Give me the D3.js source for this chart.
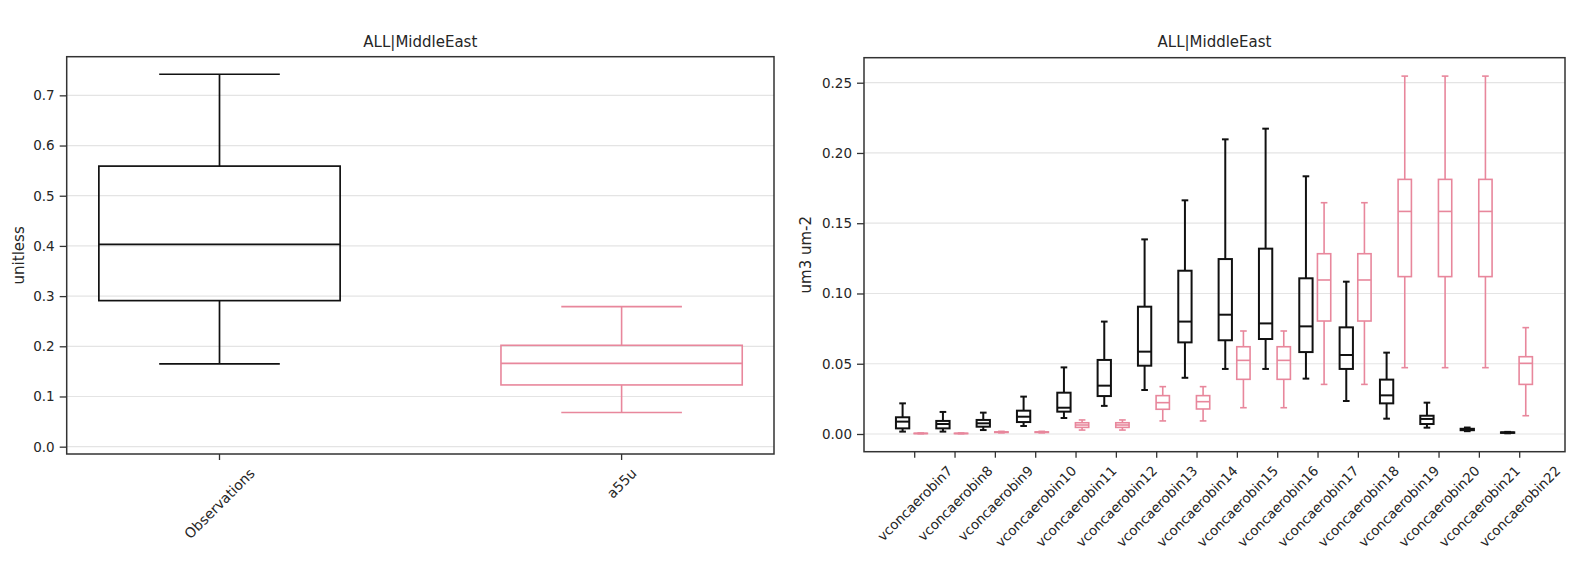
<!DOCTYPE html>
<html>
<head>
<meta charset="utf-8">
<script src="https://cdn.jsdelivr.net/npm/d3@7/dist/d3.min.js"></script>
<style>
  html, body { margin: 0; padding: 0; background: #fff; }
  svg { display: block; }
  text { font-family: "DejaVu Sans", sans-serif; }
</style>
</head>
<body>
<svg id="chart" width="1576" height="573"></svg>
<script>
// ---------------- DATA ----------------
const chartTitle = "ALL|MiddleEast";

// Left panel: one box per source, stats = [whiskerLow, q1, median, q3, whiskerHigh]
const leftCategories = ["Observations", "a55u"];
const leftStats = [
  [0.165, 0.291, 0.403, 0.559, 0.742],
  [0.068, 0.123, 0.166, 0.202, 0.279]
];
const leftYLabel = "unitless";
const leftYTicks = [0.0, 0.1, 0.2, 0.3, 0.4, 0.5, 0.6, 0.7];

// Right panel: per size bin, observations (black) and a55u model (pink)
const binCategories = ["vconcaerobin7","vconcaerobin8","vconcaerobin9","vconcaerobin10",
  "vconcaerobin11","vconcaerobin12","vconcaerobin13","vconcaerobin14","vconcaerobin15",
  "vconcaerobin16","vconcaerobin17","vconcaerobin18","vconcaerobin19","vconcaerobin20",
  "vconcaerobin21","vconcaerobin22"];
const binObsStats = [
  [0.0017, 0.0040, 0.0088, 0.0119, 0.0218],
  [0.0017, 0.0040, 0.0071, 0.0093, 0.0157],
  [0.0028, 0.0052, 0.0076, 0.0100, 0.0152],
  [0.0057, 0.0085, 0.0123, 0.0166, 0.0266],
  [0.0114, 0.0159, 0.0187, 0.0294, 0.0474],
  [0.0200, 0.0270, 0.0344, 0.0527, 0.0800],
  [0.0313, 0.0486, 0.0586, 0.0906, 0.1385],
  [0.0400, 0.0652, 0.0800, 0.1162, 0.1663],
  [0.0463, 0.0667, 0.0849, 0.1245, 0.2097],
  [0.0463, 0.0676, 0.0787, 0.1319, 0.2173],
  [0.0394, 0.0583, 0.0766, 0.1108, 0.1834],
  [0.0235, 0.0463, 0.0562, 0.0759, 0.1084],
  [0.0109, 0.0218, 0.0275, 0.0387, 0.0579],
  [0.0045, 0.0071, 0.0107, 0.0130, 0.0223],
  [0.0020, 0.0027, 0.0032, 0.0037, 0.0046],
  [0.0005, 0.0008, 0.0010, 0.0012, 0.0015]
];
const binModelStats = [
  [0.0002, 0.0003, 0.0004, 0.0005, 0.0007],
  [0.0002, 0.0003, 0.0004, 0.0005, 0.0007],
  [0.0008, 0.0011, 0.0013, 0.0015, 0.0019],
  [0.0008, 0.0011, 0.0013, 0.0015, 0.0019],
  [0.0028, 0.0047, 0.0064, 0.0080, 0.0100],
  [0.0028, 0.0047, 0.0064, 0.0080, 0.0100],
  [0.0093, 0.0176, 0.0223, 0.0273, 0.0337],
  [0.0093, 0.0178, 0.0230, 0.0273, 0.0337],
  [0.0187, 0.0389, 0.0524, 0.0621, 0.0733],
  [0.0187, 0.0389, 0.0524, 0.0621, 0.0733],
  [0.0353, 0.0804, 0.1096, 0.1283, 0.1646],
  [0.0353, 0.0804, 0.1096, 0.1283, 0.1646],
  [0.0472, 0.1120, 0.1584, 0.1812, 0.2547],
  [0.0472, 0.1120, 0.1584, 0.1812, 0.2547],
  [0.0472, 0.1120, 0.1584, 0.1812, 0.2547],
  [0.0130, 0.0353, 0.0503, 0.0550, 0.0757]
];
const rightYLabel = "um3 um-2";
const rightYTicks = [0.00, 0.05, 0.10, 0.15, 0.20, 0.25];

// ---------------- STYLE / LAYOUT ----------------
const obsColor = "#111111";
const modelColor = "#e8879c";
const gridColor = "#e4e4e4";
const frameColor = "#333333";
const textColor = "#262626";

const svg = d3.select("#chart");

function frameAndGrid(g, x0, x1, y, ticks, fmt, yLabel, labelX) {
  const [yb, yt] = y.range();
  g.append("g").selectAll("line").data(ticks).join("line")
    .attr("x1", x0).attr("x2", x1)
    .attr("y1", d => y(d)).attr("y2", d => y(d))
    .attr("stroke", gridColor).attr("stroke-width", 1.2);
  const ax = g.append("g").attr("transform", `translate(${x0},0)`)
    .call(d3.axisLeft(y).tickValues(ticks).tickFormat(d3.format(fmt)).tickSize(7).tickPadding(5));
  ax.select(".domain").remove();
  ax.selectAll(".tick line").attr("stroke", frameColor).attr("stroke-width", 1.3);
  ax.selectAll(".tick text").attr("fill", textColor).style("font-size", "13.5px")
    .style("font-family", "DejaVu Sans");
  g.append("text")
    .attr("transform", `translate(${labelX},${(yb + yt) / 2}) rotate(-90)`)
    .attr("text-anchor", "middle").attr("dominant-baseline", "central")
    .attr("fill", textColor).style("font-size", "15px").text(yLabel);
  g.append("text").attr("x", (x0 + x1) / 2).attr("y", 47)
    .attr("text-anchor", "middle").attr("fill", textColor)
    .style("font-size", "15px").text(chartTitle);
}

function xLabels(g, xs, labels, yBottom, fontSize) {
  g.append("g").selectAll("line").data(xs).join("line")
    .attr("x1", d => d).attr("x2", d => d)
    .attr("y1", yBottom).attr("y2", yBottom + 6)
    .attr("stroke", frameColor).attr("stroke-width", 1.3);
  const top = yBottom + 11;
  labels.forEach((lab, i) => {
    const t = g.append("text")
      .attr("text-anchor", "middle").attr("dominant-baseline", "central")
      .attr("fill", textColor).style("font-size", fontSize + "px").text(lab);
    const L = t.node().getComputedTextLength();
    const fh = fontSize * 1.16;
    const cy = top + (L + fh) / (2 * Math.SQRT2);
    t.attr("transform", `translate(${xs[i]},${cy}) rotate(-45)`);
  });
}

function drawBox(g, cx, bw, cw, s, y, color, sw) {
  const [lo, q1, med, q3, hi] = s;
  const bx = g.append("g").attr("stroke", color).attr("stroke-width", sw).attr("fill", "none");
  bx.append("line").attr("x1", cx).attr("x2", cx).attr("y1", y(q3)).attr("y2", y(hi));
  bx.append("line").attr("x1", cx).attr("x2", cx).attr("y1", y(q1)).attr("y2", y(lo));
  bx.append("line").attr("x1", cx - cw / 2).attr("x2", cx + cw / 2).attr("y1", y(hi)).attr("y2", y(hi));
  bx.append("line").attr("x1", cx - cw / 2).attr("x2", cx + cw / 2).attr("y1", y(lo)).attr("y2", y(lo));
  bx.append("rect").attr("x", cx - bw / 2).attr("width", bw)
    .attr("y", y(q3)).attr("height", Math.max(0.01, y(q1) - y(q3)));
  bx.append("line").attr("x1", cx - bw / 2).attr("x2", cx + bw / 2).attr("y1", y(med)).attr("y2", y(med));
}

// ---------------- LEFT PANEL ----------------
{
  const x0 = 66.7, x1 = 774, yb = 454, yt = 56.7;
  const g = svg.append("g");
  const x = d3.scaleLinear().domain([0.62, 2.379]).range([x0, x1]);
  const y = d3.scaleLinear().domain([-0.0146, 0.777]).range([yb, yt]);
  frameAndGrid(g, x0, x1, y, leftYTicks, ".1f", leftYLabel, 18.5);
  const colors = [obsColor, modelColor];
  const unit = x(2) - x(1);
  leftStats.forEach((s, i) => drawBox(g, x(i + 1), 0.6 * unit, 0.3 * unit, s, y, colors[i], i === 0 ? 1.7 : 1.6));
  g.append("rect").attr("x", x0).attr("y", yt).attr("width", x1 - x0).attr("height", yb - yt)
    .attr("fill", "none").attr("stroke", frameColor).attr("stroke-width", 1.5);
  xLabels(g, leftCategories.map((d, i) => x(i + 1)), leftCategories, yb, 14);
}

// ---------------- RIGHT PANEL ----------------
{
  const x0 = 864, x1 = 1565, yb = 451.7, yt = 57.7;
  const g = svg.append("g");
  const x = d3.scaleLinear().domain([-1.257, 16.123]).range([x0, x1]);
  const y = d3.scaleLinear().domain([-0.0126, 0.2678]).range([yb, yt]);
  frameAndGrid(g, x0, x1, y, rightYTicks, ".2f", rightYLabel, 805.5);
  const unit = x(1) - x(0);
  binModelStats.forEach((s, i) => drawBox(g, x(i + 0.15), 0.33 * unit, 0.165 * unit, s, y, modelColor, 1.6));
  binObsStats.forEach((s, i) => drawBox(g, x(i - 0.3), 0.33 * unit, 0.165 * unit, s, y, obsColor, 2));
  g.append("rect").attr("x", x0).attr("y", yt).attr("width", x1 - x0).attr("height", yb - yt)
    .attr("fill", "none").attr("stroke", frameColor).attr("stroke-width", 1.5);
  xLabels(g, binCategories.map((d, i) => x(i)), binCategories, yb, 13.5);
}
</script>
</body>
</html>
